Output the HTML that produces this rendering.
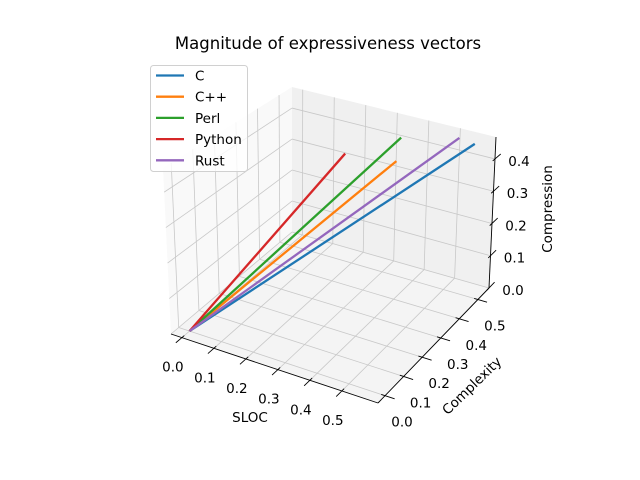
<!DOCTYPE html>
<html><head><meta charset="utf-8"><style>
body{margin:0;background:#fff}
svg{display:block;font-family:"DejaVu Sans","Liberation Sans",sans-serif}
</style></head><body>
<svg id="chart" width="640" height="480" viewBox="0 0 640 480">
<rect width="640" height="480" fill="#fff"/>
<text x="328" y="49" font-size="16.5" text-anchor="middle">Magnitude of expressiveness vectors</text>
<g id="panes"></g><g id="grid"></g><g id="axes"></g><g id="series"></g>
<text x="250" y="422" font-size="13.5" text-anchor="middle">SLOC</text>
<text x="0" y="0" font-size="13.5" text-anchor="middle" transform="translate(475,389) rotate(-44)">Complexity</text>
<text x="0" y="0" font-size="13.5" text-anchor="middle" transform="translate(552,209) rotate(-90)">Compression</text>
<g id="legend"></g>
</svg>
<script>
const seriesNames = ["C","C++","Perl","Python","Rust"];
const seriesX = [0.565,0.43,0.37,0.29,0.51];
const seriesY = [0.53,0.35,0.47,0.32,0.54];
const seriesZ = [0.45,0.45,0.45,0.45,0.45];
const colors = ["#1f77b4","#ff7f0e","#2ca02c","#d62728","#9467bd"];
const xTicks = [0.0,0.1,0.2,0.3,0.4,0.5];
const yTicks = [0.0,0.1,0.2,0.3,0.4,0.5];
const zTicks = [0.0,0.1,0.2,0.3,0.4];

const XL=[-0.034,0.613], YL=[-0.038,0.56], ZL=[0,0.468];
const Cb={A:[171,334],B:[378,403],C:[489,288],D:[292,232]};
const Ct={A:[163,168],B:[381,233],C:[496,137],D:[292,87]};
function bil(c,u,v,i){return (1-u)*(1-v)*c.A[i]+u*(1-v)*c.B[i]+u*v*c.C[i]+(1-u)*v*c.D[i];}
function proj(x,y,z){
  const u=(x-XL[0])/(XL[1]-XL[0]), v=(y-YL[0])/(YL[1]-YL[0]), w=(z-ZL[0])/(ZL[1]-ZL[0]);
  return [0,1].map(i=>bil(Cb,u,v,i)*(1-w)+bil(Ct,u,v,i)*w);
}
const NS="http://www.w3.org/2000/svg";
function mk(parent,tag,attrs){const e=document.createElementNS(NS,tag);for(const k in attrs)e.setAttribute(k,attrs[k]);document.getElementById(parent).appendChild(e);return e;}
function pts(a){return a.map(p=>p.join(",")).join(" ");}
function line(parent,p,q,stroke,w){return mk(parent,"line",{x1:p[0],y1:p[1],x2:q[0],y2:q[1],stroke:stroke,"stroke-width":w});}

let e;
e=mk("panes","polygon",{points:pts([proj(XL[0],YL[0],ZL[0]),proj(XL[0],YL[1],ZL[0]),proj(XL[0],YL[1],ZL[1]),proj(XL[0],YL[0],ZL[1])]),fill:"#f9f9f9"});


e=mk("panes","polygon",{points:pts([proj(XL[0],YL[1],ZL[0]),proj(XL[1],YL[1],ZL[0]),proj(XL[1],YL[1],ZL[1]),proj(XL[0],YL[1],ZL[1])]),fill:"#f0f0f0"});


e=mk("panes","polygon",{points:pts([proj(XL[0],YL[0],ZL[0]),proj(XL[1],YL[0],ZL[0]),proj(XL[1],YL[1],ZL[0]),proj(XL[0],YL[1],ZL[0])]),fill:"#f4f4f4"});



const gc="#c8c8c8", gw=0.8;
xTicks.forEach(t=>{
  e=line("grid",proj(t,YL[0],ZL[0]),proj(t,YL[1],ZL[0]),gc,gw);
  
  
  e=line("grid",proj(t,YL[1],ZL[0]),proj(t,YL[1],ZL[1]),gc,gw);
  
  
});
yTicks.forEach(t=>{
  e=line("grid",proj(XL[0],t,ZL[0]),proj(XL[1],t,ZL[0]),gc,gw);
  
  
  e=line("grid",proj(XL[0],t,ZL[0]),proj(XL[0],t,ZL[1]),gc,gw);
  
  
});
zTicks.forEach(t=>{
  e=line("grid",proj(XL[0],YL[0],t),proj(XL[0],YL[1],t),gc,gw);
  
  
  e=line("grid",proj(XL[0],YL[1],t),proj(XL[1],YL[1],t),gc,gw);
  
  
});

e=line("axes",proj(XL[0],YL[0],ZL[0]),proj(XL[1],YL[0],ZL[0]),"#000",0.9);


e=line("axes",proj(XL[1],YL[0],ZL[0]),proj(XL[1],YL[1],ZL[0]),"#000",0.9);


e=line("axes",proj(XL[1],YL[1],ZL[0]),proj(XL[1],YL[1],ZL[1]),"#000",0.9);


function lbl(p,txt){const t=mk("axes","text",{x:p[0],y:p[1]+5,"font-size":"13.5","text-anchor":"middle"});t.textContent=txt;return t;}
xTicks.forEach(t=>{
  e=line("axes",proj(t,YL[0]+0.012,ZL[0]),proj(t,YL[0]-0.03,ZL[0]),"#000",0.9);
  
  
  const p=proj(t,YL[0],ZL[0]);
  e=lbl([p[0]-9,p[1]+29],t.toFixed(1));
  
  
});
yTicks.forEach(t=>{
  e=line("axes",proj(XL[1]-0.012,t,ZL[0]),proj(XL[1]+0.03,t,ZL[0]),"#000",0.9);
  
  
  const p=proj(XL[1],t,ZL[0]);
  e=lbl([p[0]+17,p[1]+26],t.toFixed(1));
  
  
});
zTicks.forEach(t=>{
  e=line("axes",proj(XL[1],YL[1]-0.012,t),proj(XL[1],YL[1]+0.03,t),"#000",0.9);
  
  
  const p=proj(XL[1],YL[1],t);
  e=lbl([p[0]+24,p[1]+2],t.toFixed(1));
  
  
});

seriesNames.forEach((n,i)=>{
  e=line("series",proj(0,0,0),proj(seriesX[i],seriesY[i],seriesZ[i]),colors[i],2.3);
  
  
});

e=mk("legend","rect",{x:150.5,y:65.5,width:97,height:106,rx:3,fill:"#fff","fill-opacity":0.8,stroke:"#d0d0d0","stroke-width":1});


seriesNames.forEach((n,i)=>{
  const y=75.5+i*21.2;
  e=line("legend",[156,y],[184,y],colors[i],2.3);
  
  
  e=mk("legend","text",{x:195,y:y+5,"font-size":"13.5"});
  e.textContent=n;
  
  
});
</script>
</body></html>
